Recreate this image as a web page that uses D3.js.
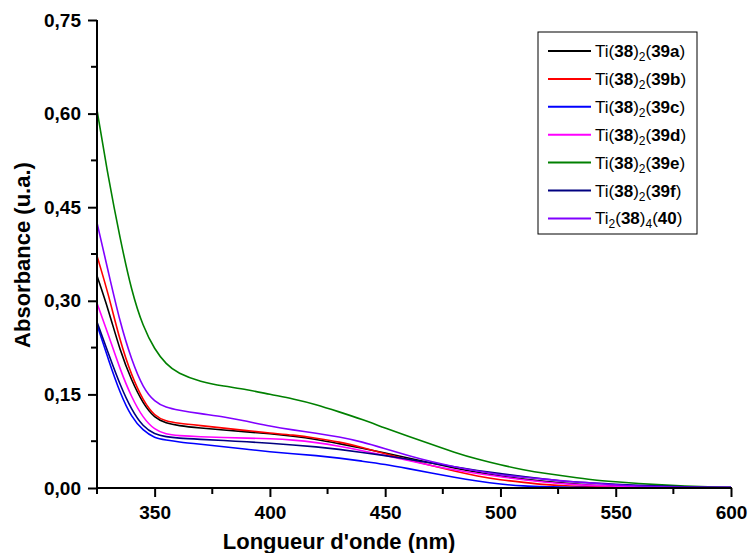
<!DOCTYPE html>
<html>
<head>
<meta charset="utf-8">
<script src="https://cdn.jsdelivr.net/npm/d3@7"></script>
<style>
body { margin: 0; background: #fff; }
text { font-family: Arial, "Liberation Sans", sans-serif; }
</style>
</head>
<body>
<script>
// wavelengths (nm) and absorbance of each complex
var wavelengths = [325,330,335,340,345,350,355,360,370,380,390,400,410,420,430,440,450,460,470,480,490,500,510,520,530,540,550,560,570,580,590,600];
var abs39a = [0.340,0.285,0.220,0.172,0.135,0.112,0.104,0.100,0.096,0.093,0.090,0.087,0.083,0.078,0.071,0.064,0.056,0.048,0.040,0.032,0.025,0.019,0.014,0.010,0.007,0.004,0.003,0.002,0.001,0.001,0,0];
var abs39b = [0.372,0.310,0.235,0.180,0.140,0.115,0.107,0.104,0.100,0.096,0.092,0.088,0.085,0.080,0.074,0.065,0.055,0.045,0.036,0.027,0.019,0.013,0.009,0.005,0.003,0.002,0.001,0.001,0,0,0,0];
var abs39c = [0.262,0.205,0.152,0.113,0.092,0.080,0.077,0.074,0.070,0.066,0.062,0.058,0.055,0.052,0.048,0.043,0.038,0.031,0.024,0.017,0.011,0.006,0.003,0.002,0.001,0.001,0,0,0,0,0,0];
var abs39d = [0.296,0.245,0.190,0.145,0.112,0.093,0.086,0.084,0.082,0.081,0.080,0.079,0.077,0.073,0.067,0.060,0.052,0.044,0.036,0.029,0.023,0.018,0.013,0.009,0.006,0.004,0.003,0.002,0.001,0.001,0,0];
var abs39e = [0.606,0.495,0.400,0.315,0.258,0.222,0.198,0.184,0.170,0.163,0.158,0.150,0.143,0.134,0.122,0.110,0.096,0.083,0.070,0.057,0.046,0.037,0.029,0.023,0.018,0.013,0.010,0.007,0.005,0.003,0.002,0.001];
var abs39f = [0.266,0.215,0.165,0.125,0.098,0.086,0.082,0.080,0.078,0.076,0.074,0.072,0.069,0.066,0.062,0.057,0.052,0.046,0.040,0.034,0.028,0.023,0.018,0.014,0.010,0.008,0.006,0.004,0.003,0.002,0.001,0.001];
var abs40  = [0.425,0.345,0.265,0.205,0.160,0.138,0.129,0.125,0.119,0.114,0.107,0.099,0.093,0.088,0.082,0.074,0.063,0.052,0.042,0.034,0.027,0.021,0.017,0.014,0.010,0.008,0.005,0.003,0.002,0.001,0.001,0.001];

var seriesValues = [abs39a, abs39b, abs39c, abs39d, abs39e, abs39f, abs40];
var seriesColors = ["#000000","#ff0000","#0000ff","#ff00ff","#008000","#000080","#8000ff"];
// legend labels: [text, kind] with kind n = normal, b = bold, s = subscript
var legendLabels = [
    [["Ti(","n"],["38","b"],[")","n"],["2","s"],["(","n"],["39a","b"],[")","n"]],
    [["Ti(","n"],["38","b"],[")","n"],["2","s"],["(","n"],["39b","b"],[")","n"]],
    [["Ti(","n"],["38","b"],[")","n"],["2","s"],["(","n"],["39c","b"],[")","n"]],
    [["Ti(","n"],["38","b"],[")","n"],["2","s"],["(","n"],["39d","b"],[")","n"]],
    [["Ti(","n"],["38","b"],[")","n"],["2","s"],["(","n"],["39e","b"],[")","n"]],
    [["Ti(","n"],["38","b"],[")","n"],["2","s"],["(","n"],["39f","b"],[")","n"]],
    [["Ti","n"],["2","s"],["(","n"],["38","b"],[")","n"],["4","s"],["(","n"],["40","b"],[")","n"]]
];
var xMajor = [350,400,450,500,550,600];
var xMinor = [325,375,425,475,525,575];
var yMajor = [0,0.15,0.30,0.45,0.60,0.75];
var yMinor = [0.075,0.225,0.375,0.525,0.675];

var width = 749, height = 553;
var margin = {top: 20, right: 18, bottom: 65, left: 97};
var w = width - margin.left - margin.right;
var h = height - margin.top - margin.bottom;

var svg = d3.select("body").append("svg")
    .attr("width", width).attr("height", height);
var g = svg.append("g").attr("transform", "translate(" + margin.left + "," + margin.top + ")");

var x = d3.scaleLinear().domain([325, 600]).range([0, w]);
var y = d3.scaleLinear().domain([0, 0.75]).range([h, 0]);

var fmt = function(d){ return d3.format(".2f")(d).replace(".", ","); };

// curves
g.append("clipPath").attr("id","clip").append("rect").attr("width", w).attr("height", h);
var line = d3.line()
    .x(function(d,i){ return x(wavelengths[i]); })
    .y(function(d){ return y(d); })
    .curve(d3.curveBasis);
seriesValues.forEach(function(vals, k){
    g.append("path").attr("d", line(vals))
        .attr("fill","none").attr("stroke", seriesColors[k])
        .attr("stroke-width", 1.6).attr("clip-path","url(#clip)");
});

// axes
var xAxis = g.append("g").attr("transform","translate(0," + h + ")")
    .call(d3.axisBottom(x).tickValues(xMajor).tickSize(9).tickPadding(9).tickFormat(d3.format("d")));
xAxis.append("g").selectAll("line").data(xMinor).enter().append("line")
    .attr("x1", function(d){ return x(d); }).attr("x2", function(d){ return x(d); })
    .attr("y1", 0).attr("y2", 6).attr("stroke","#000").attr("stroke-width",2);
var yAxis = g.append("g")
    .call(d3.axisLeft(y).tickValues(yMajor).tickSize(9).tickPadding(7).tickFormat(fmt));
yAxis.append("g").selectAll("line").data(yMinor).enter().append("line")
    .attr("y1", function(d){ return y(d); }).attr("y2", function(d){ return y(d); })
    .attr("x1", 0).attr("x2", -6).attr("stroke","#000").attr("stroke-width",2);

[xAxis, yAxis].forEach(function(ax){
    ax.selectAll(".tick line").attr("stroke-width", 2);
    ax.selectAll(".tick text").attr("font-size", 19).attr("font-weight","bold")
        .attr("font-family","Arial, 'Liberation Sans', sans-serif").attr("fill","#000");
    ax.select(".domain").remove();
});
g.append("line").attr("x1", -1).attr("x2", w + 1).attr("y1", h).attr("y2", h)
    .attr("stroke","#000").attr("stroke-width",2);
g.append("line").attr("x1", 0).attr("x2", 0).attr("y1", 0).attr("y2", h + 1)
    .attr("stroke","#000").attr("stroke-width",2);

// axis titles
svg.append("text").attr("x", margin.left + x(430)).attr("y", 549)
    .attr("text-anchor","middle").attr("font-size", 22).attr("font-weight","bold")
    .text("Longueur d'onde (nm)");
svg.append("text").attr("transform","translate(30,255) rotate(-90)")
    .attr("text-anchor","middle").attr("font-size", 22).attr("font-weight","bold")
    .text("Absorbance (u.a.)");

// legend
var legend = svg.append("g").attr("transform","translate(538,32)");
legend.append("rect").attr("width",159).attr("height",202)
    .attr("fill","#fff").attr("stroke","#000").attr("stroke-width",1);
legendLabels.forEach(function(parts, k){
    var cy = 19 + k * 27.9;
    legend.append("line").attr("x1",10).attr("x2",53).attr("y1",cy).attr("y2",cy)
        .attr("stroke", seriesColors[k]).attr("stroke-width",2);
    var t = legend.append("text").attr("x",57).attr("y",cy + 6).attr("font-size",17).attr("fill","#000");
    var shift = 0;
    parts.forEach(function(p){
        var ts = t.append("tspan").text(p[0]);
        if (p[1] == "b") ts.attr("font-weight","bold");
        if (p[1] == "s") { ts.attr("font-size",12).attr("dy",4); shift = 4; }
        else { ts.attr("dy", -shift); shift = 0; }
    });
});
</script>
</body>
</html>
